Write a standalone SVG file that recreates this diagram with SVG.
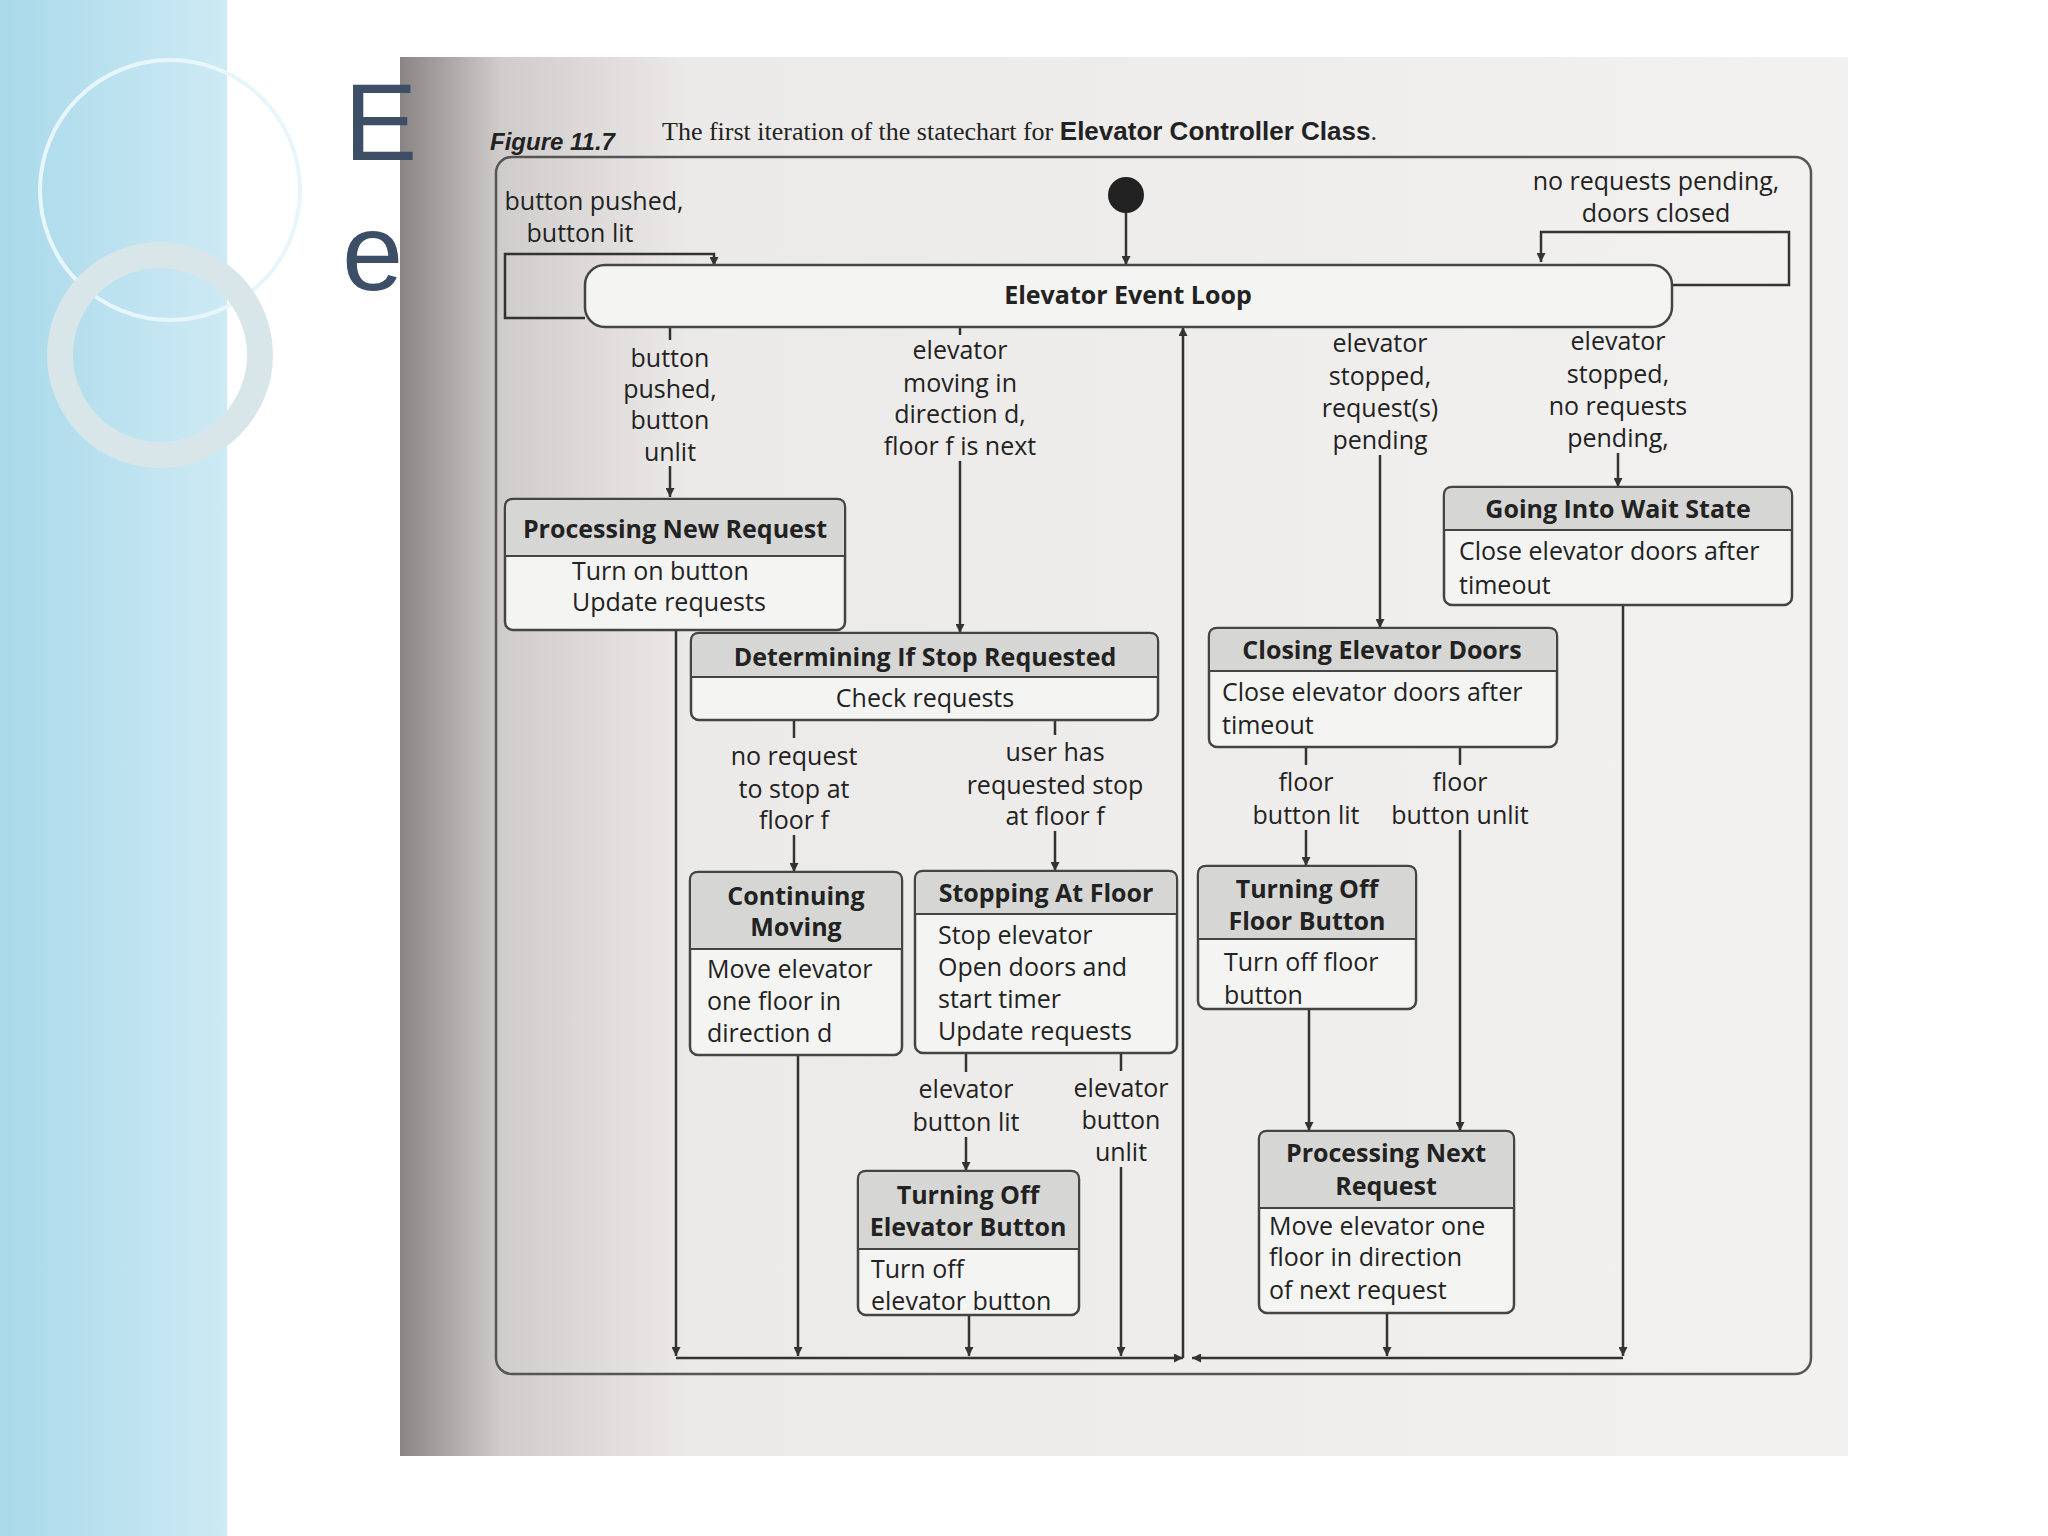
<svg xmlns="http://www.w3.org/2000/svg" width="2048" height="1536" viewBox="0 0 2048 1536">
<defs>
<linearGradient id="blue" x1="0" y1="0" x2="1" y2="0"><stop offset="0" stop-color="#a9d9ea"/><stop offset="1" stop-color="#cdeaf4"/></linearGradient>
<linearGradient id="paper" x1="0" y1="0" x2="1" y2="0"><stop offset="0" stop-color="#8a8584"/><stop offset="0.07" stop-color="#cfcccb"/><stop offset="0.2" stop-color="#eceae8"/><stop offset="1" stop-color="#f2f1ef"/></linearGradient>
<marker id="ah" viewBox="0 0 10 10" refX="10" refY="5" markerWidth="9" markerHeight="9" orient="auto-start-reverse" markerUnits="userSpaceOnUse"><path d="M0,0 L10,5 L0,10 z" fill="#333"/></marker>
<style>
.ln{stroke:#333;stroke-width:2.5;fill:none}
.box{fill:#f4f4f2;stroke:#444;stroke-width:2.5}
.hd{fill:#d6d6d4;stroke:#444;stroke-width:2}
.t{font-family:"Open Sans","DejaVu Sans",sans-serif;font-size:25px;fill:#222;dominant-baseline:central;text-anchor:middle}
.tb{font-weight:bold}
.l{text-anchor:start}
.lb{font-family:"Open Sans","DejaVu Sans",sans-serif;font-size:25px;fill:#222;dominant-baseline:central;text-anchor:middle}
</style>
</defs>
<rect width="2048" height="1536" fill="#ffffff"/>
<rect width="227" height="1536" fill="url(#blue)"/>
<circle cx="170" cy="190" r="130" fill="none" stroke="#e8f6fb" stroke-width="4"/>
<circle cx="160" cy="355" r="100" fill="none" stroke="#d8e6ea" stroke-width="26"/>
<rect x="400" y="57" width="1448" height="1399" fill="url(#paper)"/>
<text x="344" y="160" font-family="Liberation Sans,sans-serif" font-size="110" fill="#3d4f66">E</text>
<text x="342" y="290" font-family="Liberation Sans,sans-serif" font-size="110" fill="#3d4f66">e</text>
<g id="caption">
<text x="490" y="150" font-family="Liberation Sans,sans-serif" font-size="24" font-style="italic" font-weight="bold" fill="#222">Figure 11.7</text>
<text x="662" y="140" font-family="Liberation Serif,serif" font-size="26" fill="#222">The first iteration of the statechart for <tspan font-family="Liberation Sans,sans-serif" font-weight="bold">Elevator Controller Class</tspan>.</text>
</g>
<rect x="496" y="157" width="1315" height="1217" rx="16" fill="none" stroke="#555" stroke-width="2.5"/>
<g id="connectors">
<circle cx="1126" cy="195" r="18" fill="#222"/>
<line class="ln" x1="1126" y1="213" x2="1126" y2="265" marker-end="url(#ah)"/>
<polyline class="ln" points="585,318 505,318 505,254 714,254 714,266" marker-end="url(#ah)"/>
<polyline class="ln" points="1672,285 1789,285 1789,232 1541,232 1541,262" marker-end="url(#ah)"/>
<line class="ln" x1="670" y1="327" x2="670" y2="340"/><line class="ln" x1="670" y1="466" x2="670" y2="497" marker-end="url(#ah)"/>
<line class="ln" x1="960" y1="327" x2="960" y2="335"/><line class="ln" x1="960" y1="461" x2="960" y2="633" marker-end="url(#ah)"/>
<line class="ln" x1="1380" y1="455" x2="1380" y2="628" marker-end="url(#ah)"/>
<line class="ln" x1="1618" y1="453" x2="1618" y2="487" marker-end="url(#ah)"/>
<line class="ln" x1="1183" y1="1358" x2="1183" y2="327" marker-end="url(#ah)"/>
<line class="ln" x1="676" y1="1358" x2="1183" y2="1358" marker-end="url(#ah)"/>
<line class="ln" x1="1623" y1="1358" x2="1192" y2="1358" marker-end="url(#ah)"/>
<line class="ln" x1="676" y1="630" x2="676" y2="1356" marker-end="url(#ah)"/>
<line class="ln" x1="794" y1="720" x2="794" y2="738"/><line class="ln" x1="794" y1="835" x2="794" y2="872" marker-end="url(#ah)"/>
<line class="ln" x1="1055" y1="720" x2="1055" y2="735"/><line class="ln" x1="1055" y1="831" x2="1055" y2="871" marker-end="url(#ah)"/>
<line class="ln" x1="798" y1="1055" x2="798" y2="1356" marker-end="url(#ah)"/>
<line class="ln" x1="966" y1="1053" x2="966" y2="1072"/><line class="ln" x1="966" y1="1137" x2="966" y2="1171" marker-end="url(#ah)"/>
<line class="ln" x1="1121" y1="1053" x2="1121" y2="1071"/><line class="ln" x1="1121" y1="1167" x2="1121" y2="1356" marker-end="url(#ah)"/>
<line class="ln" x1="969" y1="1315" x2="969" y2="1356" marker-end="url(#ah)"/>
<line class="ln" x1="1306" y1="747" x2="1306" y2="765"/><line class="ln" x1="1306" y1="830" x2="1306" y2="866" marker-end="url(#ah)"/>
<line class="ln" x1="1460" y1="747" x2="1460" y2="765"/><line class="ln" x1="1460" y1="830" x2="1460" y2="1131" marker-end="url(#ah)"/>
<line class="ln" x1="1309" y1="1009" x2="1309" y2="1131" marker-end="url(#ah)"/>
<line class="ln" x1="1387" y1="1313" x2="1387" y2="1356" marker-end="url(#ah)"/>
<line class="ln" x1="1623" y1="605" x2="1623" y2="1356" marker-end="url(#ah)"/>
<text class="lb" x="594" y="200" font-size="24">button pushed,</text><text class="lb" x="580" y="232" font-size="24">button lit</text>
<text class="lb" x="1656" y="180">no requests pending,</text><text class="lb" x="1656" y="212">doors closed</text>
<text class="lb" x="670" y="357">button</text><text class="lb" x="670" y="388">pushed,</text><text class="lb" x="670" y="419">button</text><text class="lb" x="670" y="451">unlit</text>
<text class="lb" x="960" y="349">elevator</text><text class="lb" x="960" y="382">moving in</text><text class="lb" x="960" y="413">direction d,</text><text class="lb" x="960" y="445">floor f is next</text>
<text class="lb" x="1380" y="342">elevator</text><text class="lb" x="1380" y="375">stopped,</text><text class="lb" x="1380" y="407">request(s)</text><text class="lb" x="1380" y="439">pending</text>
<text class="lb" x="1618" y="340">elevator</text><text class="lb" x="1618" y="373">stopped,</text><text class="lb" x="1618" y="405">no requests</text><text class="lb" x="1618" y="437">pending,</text>
<text class="lb" x="794" y="755">no request</text><text class="lb" x="794" y="788">to stop at</text><text class="lb" x="794" y="819">floor f</text>
<text class="lb" x="1055" y="751">user has</text><text class="lb" x="1055" y="784">requested stop</text><text class="lb" x="1055" y="815">at floor f</text>
<text class="lb" x="966" y="1088">elevator</text><text class="lb" x="966" y="1121">button lit</text>
<text class="lb" x="1121" y="1087">elevator</text><text class="lb" x="1121" y="1119">button</text><text class="lb" x="1121" y="1151">unlit</text>
<text class="lb" x="1306" y="781">floor</text><text class="lb" x="1306" y="814">button lit</text>
<text class="lb" x="1460" y="781">floor</text><text class="lb" x="1460" y="814">button unlit</text>
</g>
<g id="eventloop"><rect x="585" y="265" width="1087" height="62" rx="20" class="box"/><text class="t tb" x="1128" y="294">Elevator Event Loop</text></g>
<g id="pnr"><rect class="box" x="505" y="499" width="340" height="131" rx="8"/><path class="hd" d="M513,499 H837 Q845,499 845,507 V556 H505 V507 Q505,499 513,499 Z"/><text class="t tb" x="675" y="528">Processing New Request</text><text class="t l" x="572" y="570">Turn on button</text><text class="t l" x="572" y="601">Update requests</text></g>
<g id="det"><rect class="box" x="691" y="633" width="467" height="87" rx="8"/><path class="hd" d="M699,633 H1150 Q1158,633 1158,641 V677 H691 V641 Q691,633 699,633 Z"/><text class="t tb" x="925" y="656">Determining If Stop Requested</text><text class="t" x="925" y="697">Check requests</text></g>
<g id="wait"><rect class="box" x="1444" y="487" width="348" height="118" rx="8"/><path class="hd" d="M1452,487 H1784 Q1792,487 1792,495 V530 H1444 V495 Q1444,487 1452,487 Z"/><text class="t tb" x="1618" y="508">Going Into Wait State</text><text class="t l" x="1459" y="550">Close elevator doors after</text><text class="t l" x="1459" y="584">timeout</text></g>
<g id="closing"><rect class="box" x="1209" y="628" width="348" height="119" rx="8"/><path class="hd" d="M1217,628 H1549 Q1557,628 1557,636 V671 H1209 V636 Q1209,628 1217,628 Z"/><text class="t tb" x="1382" y="649">Closing Elevator Doors</text><text class="t l" x="1222" y="691">Close elevator doors after</text><text class="t l" x="1222" y="724">timeout</text></g>
<g id="cont"><rect class="box" x="690" y="872" width="212" height="183" rx="8"/><path class="hd" d="M698,872 H894 Q902,872 902,880 V949 H690 V880 Q690,872 698,872 Z"/><text class="t tb" x="796" y="895">Continuing</text><text class="t tb" x="796" y="926">Moving</text><text class="t l" x="707" y="968">Move elevator</text><text class="t l" x="707" y="1000">one floor in</text><text class="t l" x="707" y="1032">direction d</text></g>
<g id="stop"><rect class="box" x="915" y="871" width="262" height="182" rx="8"/><path class="hd" d="M923,871 H1169 Q1177,871 1177,879 V914 H915 V879 Q915,871 923,871 Z"/><text class="t tb" x="1046" y="892">Stopping At Floor</text><text class="t l" x="938" y="934">Stop elevator</text><text class="t l" x="938" y="966">Open doors and</text><text class="t l" x="938" y="998">start timer</text><text class="t l" x="938" y="1030">Update requests</text></g>
<g id="tofb"><rect class="box" x="1198" y="866" width="218" height="143" rx="8"/><path class="hd" d="M1206,866 H1408 Q1416,866 1416,874 V939 H1198 V874 Q1198,866 1206,866 Z"/><text class="t tb" x="1307" y="888">Turning Off</text><text class="t tb" x="1307" y="920">Floor Button</text><text class="t l" x="1224" y="961">Turn off floor</text><text class="t l" x="1224" y="994">button</text></g>
<g id="toeb"><rect class="box" x="858" y="1171" width="221" height="144" rx="8"/><path class="hd" d="M866,1171 H1071 Q1079,1171 1079,1179 V1249 H858 V1179 Q858,1171 866,1171 Z"/><text class="t tb" x="968" y="1194">Turning Off</text><text class="t tb" x="968" y="1226">Elevator Button</text><text class="t l" x="871" y="1268">Turn off</text><text class="t l" x="871" y="1300">elevator button</text></g>
<g id="pnext"><rect class="box" x="1259" y="1131" width="255" height="182" rx="8"/><path class="hd" d="M1267,1131 H1506 Q1514,1131 1514,1139 V1208 H1259 V1139 Q1259,1131 1267,1131 Z"/><text class="t tb" x="1386" y="1152">Processing Next</text><text class="t tb" x="1386" y="1185">Request</text><text class="t l" x="1269" y="1225">Move elevator one</text><text class="t l" x="1269" y="1256">floor in direction</text><text class="t l" x="1269" y="1289">of next request</text></g>
</svg>
